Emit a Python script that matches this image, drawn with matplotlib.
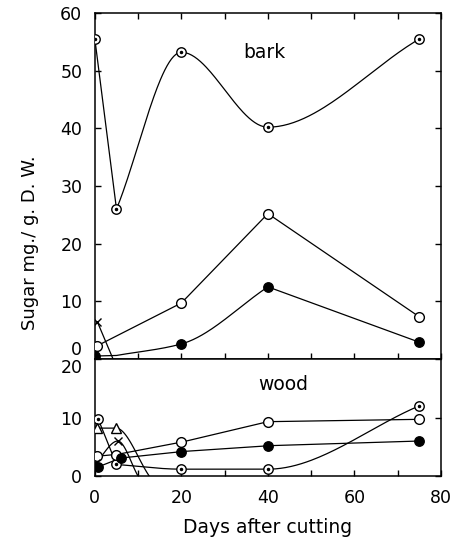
import numpy as np
import matplotlib
matplotlib.use("Agg")
import matplotlib.pyplot as plt

# bark (upper panel)
bark_dot_days = [0, 5, 20, 40, 75]
bark_dot = [55.5, 26.0, 53.2, 40.2, 55.5]        # dotted circles
bark_open_days = [0.6, 20, 40, 75]
bark_open = [2.3, 9.7, 25.2, 7.3]                # open circles
bark_fill_days = [0, 5, 20, 40, 75]
bark_fill = [0.5, 0.6, 2.6, 12.5, 2.9]           # filled circles (no mark at day 5)
bark_x_days = [0.6, 4.2]
bark_x = [6.4, 0.0]                              # crosses

# wood (lower panel)
wood_dot_days = [0.8, 5, 20, 40, 75]
wood_dot = [9.7, 2.0, 1.2, 1.2, 12.0]
wood_open_days = [0.4, 5, 20, 40, 75]
wood_open = [3.4, 3.7, 5.8, 9.3, 9.7]
wood_fill_days = [0.8, 6, 20, 40, 75]
wood_fill = [1.6, 3.1, 4.2, 5.2, 6.0]
wood_tri_days = [0.6, 4.9, 12.6]
wood_tri = [8.2, 8.2, 0.0]
wood_x_days = [0.2, 5.3, 10.0]
wood_x = [2.2, 6.0, 0.0]


def hermite(xs, ys, corners=(), n=60):
    # monotone (Fritsch-Carlson) tangents; at "corner" nodes the curve
    # leaves along the neighbouring segment instead, like a hand-drawn kink
    x = np.asarray(xs, float)
    y = np.asarray(ys, float)
    h = np.diff(x)
    d = np.diff(y) / h
    m = np.zeros_like(y)
    for k in range(1, len(x) - 1):
        if d[k - 1] * d[k] > 0:
            w1 = 2 * h[k] + h[k - 1]
            w2 = h[k] + 2 * h[k - 1]
            m[k] = (w1 + w2) / (w1 / d[k - 1] + w2 / d[k])
    m[0], m[-1] = d[0], d[-1]
    ml, mr = m.copy(), m.copy()   # tangent arriving / leaving each node
    for k in corners:
        if k > 0:
            ml[k] = d[k - 1]
        if k < len(x) - 1:
            mr[k] = d[k]
    px, py = [], []
    t = np.linspace(0, 1, n)
    for k in range(len(x) - 1):
        h00 = 2 * t**3 - 3 * t**2 + 1
        h10 = t**3 - 2 * t**2 + t
        h01 = -2 * t**3 + 3 * t**2
        h11 = t**3 - t**2
        px.append(x[k] + t * h[k])
        py.append(h00 * y[k] + h10 * h[k] * mr[k] + h01 * y[k + 1] + h11 * h[k] * ml[k + 1])
    return np.concatenate(px), np.concatenate(py)


def line(ax, xs, ys, corners=()):
    sx, sy = hermite(xs, ys, corners)
    ax.plot(sx, sy, color="black", lw=0.9, zorder=2)


def marks(ax, xs, ys, kind):
    if kind == "dot":
        ax.plot(xs, ys, "o", ms=6.8, mfc="white", mec="black", mew=1.0, zorder=3)
        ax.plot(xs, ys, ".", ms=3, color="black", zorder=4)
    elif kind == "open":
        ax.plot(xs, ys, "o", ms=7, mfc="white", mec="black", mew=1.0, zorder=3)
    elif kind == "fill":
        ax.plot(xs, ys, "o", ms=6.8, color="black", zorder=3)
    elif kind == "x":
        ax.plot(xs, ys, "x", ms=6, color="black", mew=1.0, zorder=3)
    elif kind == "tri":
        ax.plot(xs, ys, "^", ms=7, mfc="white", mec="black", mew=1.0, zorder=3)


plt.rcParams["font.family"] = ["DejaVu Sans"]
fig = plt.figure(figsize=(4.56, 5.43), dpi=100)
ax1 = fig.add_axes([0.208, 0.339, 0.759, 0.637])
ax2 = fig.add_axes([0.208, 0.123, 0.759, 0.216])

line(ax1, bark_dot_days, bark_dot, corners=(1,))
marks(ax1, bark_dot_days, bark_dot, "dot")
line(ax1, bark_open_days, bark_open, corners=(1, 2))
marks(ax1, bark_open_days, bark_open, "open")
line(ax1, bark_fill_days, bark_fill, corners=(1, 3))
marks(ax1, [bark_fill_days[i] for i in (0, 2, 3, 4)],
      [bark_fill[i] for i in (0, 2, 3, 4)], "fill")
line(ax1, bark_x_days, bark_x)
marks(ax1, bark_x_days[:1], bark_x[:1], "x")

line(ax2, wood_dot_days, wood_dot, corners=(1,))
marks(ax2, wood_dot_days, wood_dot, "dot")
line(ax2, wood_open_days, wood_open, corners=(1, 2, 3))
marks(ax2, wood_open_days, wood_open, "open")
line(ax2, wood_fill_days, wood_fill, corners=(1, 2, 3))
marks(ax2, wood_fill_days, wood_fill, "fill")
line(ax2, wood_tri_days, wood_tri)
marks(ax2, wood_tri_days[:2], wood_tri[:2], "tri")
line(ax2, wood_x_days, wood_x)
marks(ax2, wood_x_days[:2], wood_x[:2], "x")

for ax in (ax1, ax2):
    ax.set_xlim(0, 80)
    ax.set_xticks(range(0, 81, 10))
    ax.tick_params(direction="in", length=4, width=1, top=True, right=True,
                   labelsize=12.5, pad=9)
    for s in ax.spines.values():
        s.set_linewidth(1.1)

ax1.set_ylim(0, 60)
ax1.set_yticks(range(0, 61, 10))
ax1.tick_params(labelbottom=False)
ax1.get_yticklabels()[0].set_va("bottom")
ax1.text(0.49, 0.885, "bark", transform=ax1.transAxes, fontsize=13.5,
         ha="center", va="center")

ax2.set_ylim(0, 20)
ax2.set_yticks([0, 10, 20])
ax2.get_yticklabels()[-1].set_va("top")
ax2.set_xticks(range(0, 81, 20))
ax2.set_xticks(range(10, 80, 20), minor=True)
ax2.tick_params(which="minor", direction="in", length=4, width=1)
ax2.tick_params(top=False)
ax2.text(0.543, 0.78, "wood", transform=ax2.transAxes, fontsize=13.5,
         ha="center", va="center")
ax2.set_xlabel("Days after cutting", fontsize=13.5, labelpad=8)

fig.text(0.066, 0.553, "Sugar mg./ g. D. W.", rotation=90, fontsize=13,
         ha="center", va="center")

fig.savefig("out.png", dpi=100)
